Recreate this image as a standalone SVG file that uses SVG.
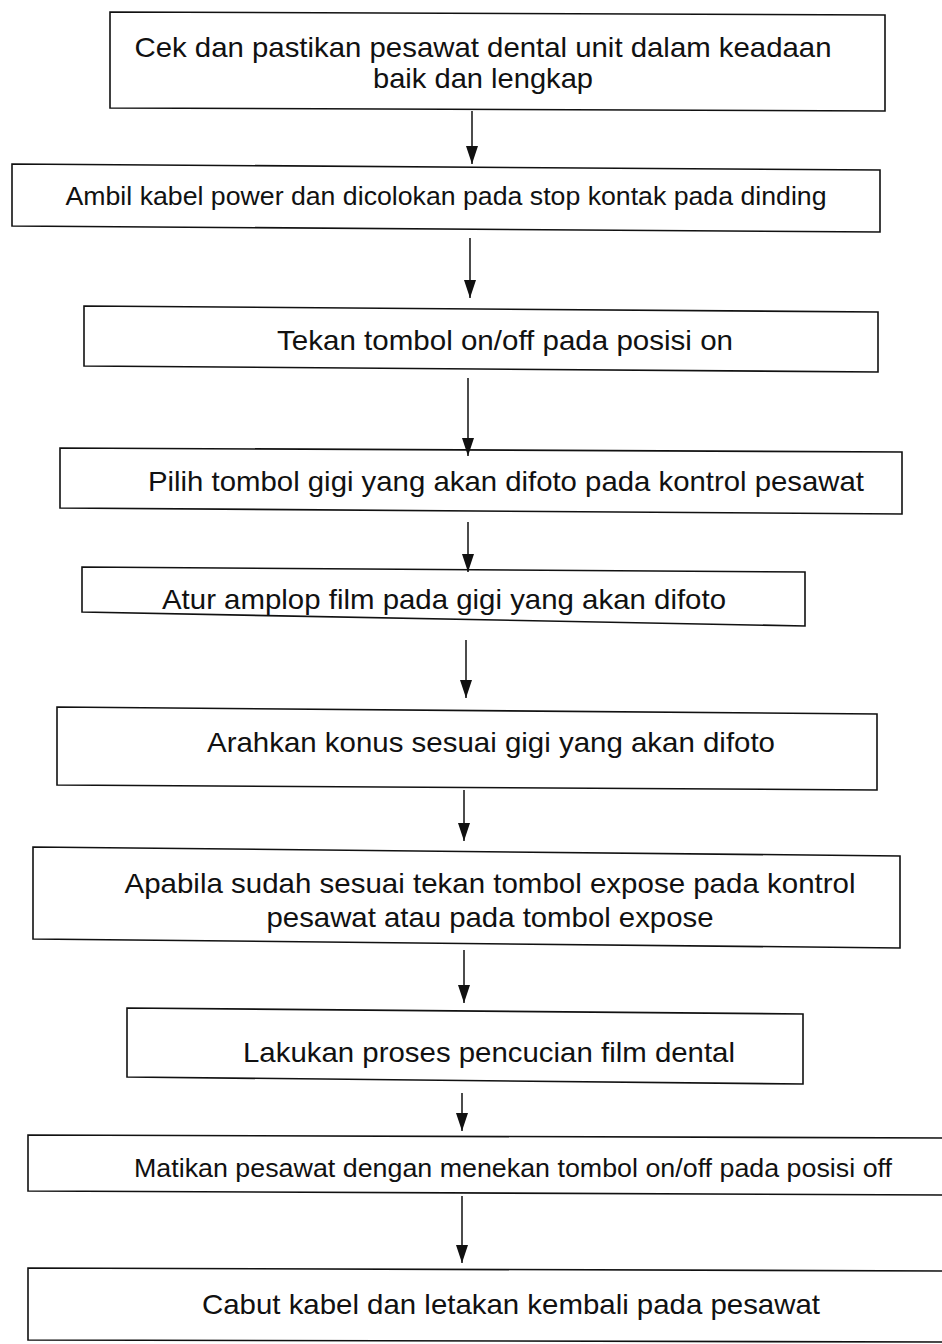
<svg xmlns="http://www.w3.org/2000/svg" width="942" height="1344" viewBox="0 0 942 1344">
<defs>
<marker id="ah" markerWidth="18" markerHeight="12" refX="18" refY="6" orient="auto" markerUnits="userSpaceOnUse" viewBox="0 0 18 12">
<path d="M0,0 L18,6 L0,12 Z" fill="#111"/>
</marker>
</defs>
<style>
.box{fill:#fff;stroke:#111;stroke-width:1.6}
.t{font-family:"Liberation Sans",Arial,sans-serif;font-size:28px;fill:#111}
.s{font-size:26px}
.c{stroke:#111;stroke-width:1.5;fill:none}
</style>
<rect width="942" height="1344" fill="#fff"/>
<g id="n1">
<polygon class="box" points="110,12 885,15 885,111 110,108"/>
<text class="t" x="483" y="57" text-anchor="middle" textLength="697" lengthAdjust="spacingAndGlyphs">Cek dan pastikan pesawat dental unit dalam keadaan</text>
<text class="t" x="483" y="88" text-anchor="middle" textLength="220" lengthAdjust="spacingAndGlyphs">baik dan lengkap</text>
</g>
<g id="n2">
<polygon class="box" points="12,164 880,170 880,232 12,226"/>
<text class="t s" x="446" y="205" text-anchor="middle" textLength="761" lengthAdjust="spacingAndGlyphs">Ambil kabel power dan dicolokan pada stop kontak pada dinding</text>
</g>
<g id="n3">
<polygon class="box" points="84,306 878,312 878,372 84,366"/>
<text class="t" x="505" y="350" text-anchor="middle" textLength="456" lengthAdjust="spacingAndGlyphs">Tekan tombol on/off pada posisi on</text>
</g>
<g id="n4">
<polygon class="box" points="60,448 902,452 902,514 60,508"/>
<text class="t" x="506" y="491" text-anchor="middle" textLength="716" lengthAdjust="spacingAndGlyphs">Pilih tombol gigi yang akan difoto pada kontrol pesawat</text>
</g>
<g id="n5">
<polygon class="box" points="82,567 805,572 805,626 82,612"/>
<text class="t" x="444" y="609" text-anchor="middle" textLength="564" lengthAdjust="spacingAndGlyphs">Atur amplop film pada gigi yang akan difoto</text>
</g>
<g id="n6">
<polygon class="box" points="57,707 877,714 877,790 57,785"/>
<text class="t" x="491" y="752" text-anchor="middle" textLength="568" lengthAdjust="spacingAndGlyphs">Arahkan konus sesuai gigi yang akan difoto</text>
</g>
<g id="n7">
<polygon class="box" points="33,847 900,856 900,948 33,939"/>
<text class="t" x="490" y="893" text-anchor="middle" textLength="731" lengthAdjust="spacingAndGlyphs">Apabila sudah sesuai tekan tombol expose pada kontrol</text>
<text class="t" x="490" y="927" text-anchor="middle" textLength="447" lengthAdjust="spacingAndGlyphs">pesawat atau pada tombol expose</text>
</g>
<g id="n8">
<polygon class="box" points="127,1008 803,1014 803,1084 127,1077"/>
<text class="t" x="489" y="1062" text-anchor="middle" textLength="492" lengthAdjust="spacingAndGlyphs">Lakukan proses pencucian film dental</text>
</g>
<g id="n9">
<polygon class="box" points="28,1135 945,1138 945,1195 28,1191"/>
<text class="t s" x="513" y="1177" text-anchor="middle" textLength="758" lengthAdjust="spacingAndGlyphs">Matikan pesawat dengan menekan tombol on/off pada posisi off</text>
</g>
<g id="n10">
<polygon class="box" points="28,1268 945,1271 945,1342 28,1340"/>
<text class="t" x="511" y="1314" text-anchor="middle" textLength="618" lengthAdjust="spacingAndGlyphs">Cabut kabel dan letakan kembali pada pesawat</text>
</g>
<g id="connectors">
<line class="c" x1="472" y1="111" x2="472" y2="164" marker-end="url(#ah)"/>
<line class="c" x1="470" y1="238" x2="470" y2="298" marker-end="url(#ah)"/>
<line class="c" x1="468" y1="378" x2="468" y2="456" marker-end="url(#ah)"/>
<line class="c" x1="468" y1="522" x2="468" y2="572" marker-end="url(#ah)"/>
<line class="c" x1="466" y1="640" x2="466" y2="698" marker-end="url(#ah)"/>
<line class="c" x1="464" y1="790" x2="464" y2="841" marker-end="url(#ah)"/>
<line class="c" x1="464" y1="950" x2="464" y2="1003" marker-end="url(#ah)"/>
<line class="c" x1="462" y1="1093" x2="462" y2="1131" marker-end="url(#ah)"/>
<line class="c" x1="462" y1="1196" x2="462" y2="1263" marker-end="url(#ah)"/>
</g>
</svg>
